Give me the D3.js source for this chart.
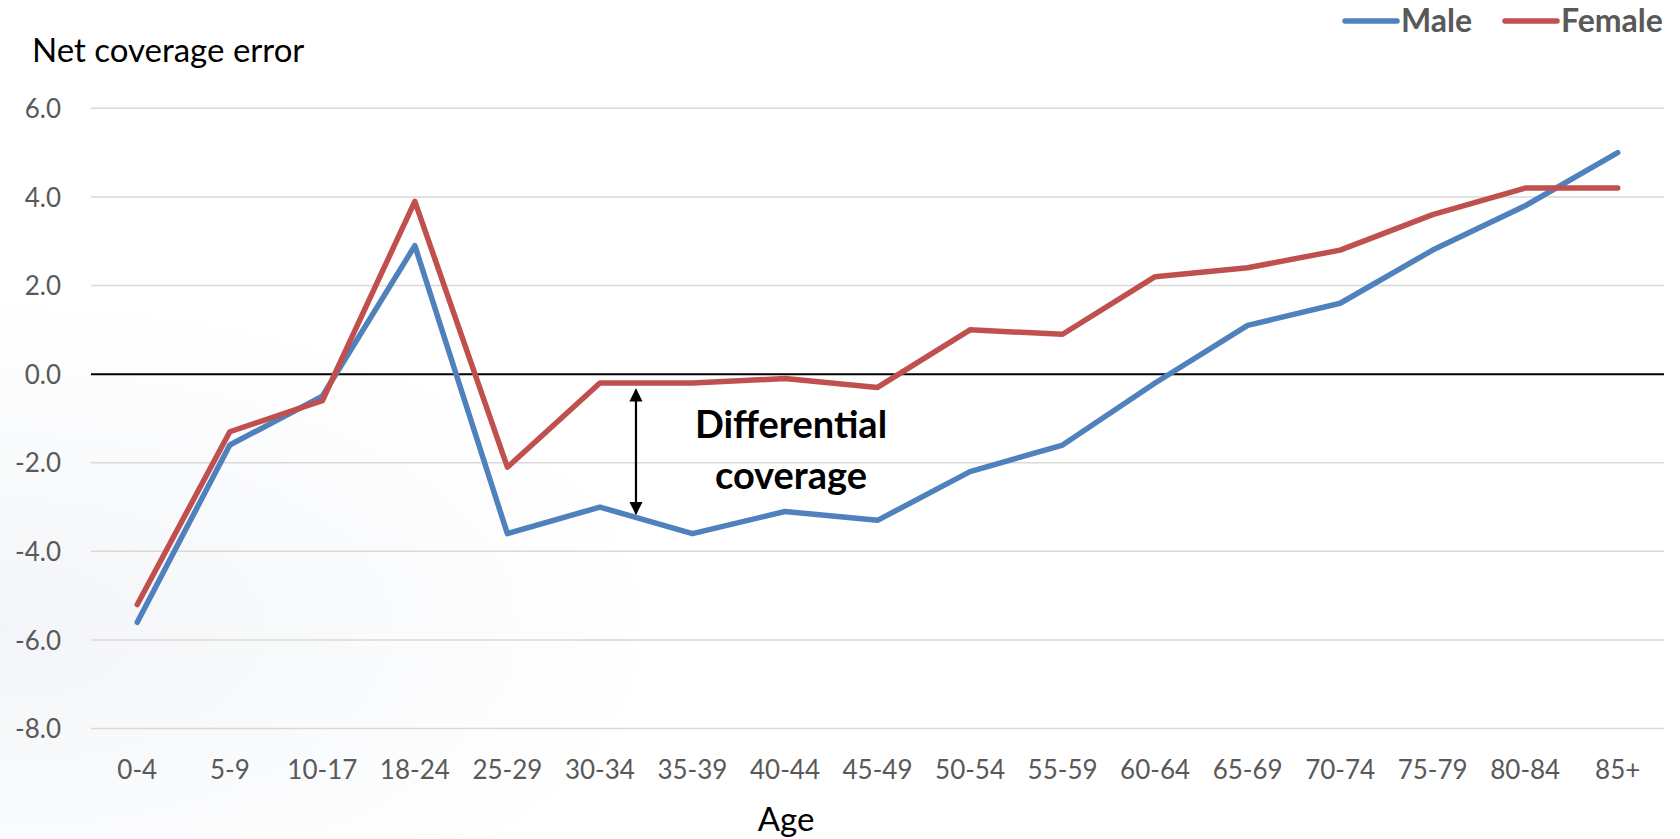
<!DOCTYPE html>
<html>
<head>
<meta charset="utf-8">
<script src="https://cdn.jsdelivr.net/npm/d3@7"></script>
<style>
html,body{margin:0;padding:0;background:#fff;}
svg{display:block;}
</style>
</head>
<body>
<svg id="chart" width="1680" height="839"></svg>
<script>
const categories = ["0-4","5-9","10-17","18-24","25-29","30-34","35-39","40-44","45-49","50-54","55-59","60-64","65-69","70-74","75-79","80-84","85+"];
const maleValues = [-5.6,-1.6,-0.5,2.9,-3.6,-3.0,-3.6,-3.1,-3.3,-2.2,-1.6,-0.2,1.1,1.6,2.8,3.8,5.0];
const femaleValues = [-5.2,-1.3,-0.6,3.9,-2.1,-0.2,-0.2,-0.1,-0.3,1.0,0.9,2.2,2.4,2.8,3.6,4.2,4.2];
const yTicks = [6,4,2,0,-2,-4,-6,-8];
const seriesNames = ["Male","Female"];
const seriesColors = ["#4F81BD","#C0504D"];

(function(){
const W = 1680, H = 839;
const mLeft = 91, mRight = 1664, mTop = 108.3, mBottom = 728.6;
const font = "Lato, 'Open Sans', sans-serif";

const svg = d3.select("#chart");

// faint slide background
const defs = svg.append("defs");
const rg = defs.append("radialGradient").attr("id","bg").attr("cx","0").attr("cy","0.75").attr("r","0.4");
rg.append("stop").attr("offset","0").attr("stop-color","#f3f5f8");
rg.append("stop").attr("offset","1").attr("stop-color","#ffffff");
svg.append("rect").attr("width",W).attr("height",H).attr("fill","url(#bg)");

const x = d3.scaleBand().domain(categories).range([mLeft, mRight]);
const y = d3.scaleLinear().domain([-8, 6]).range([mBottom, mTop]);

// gridlines
svg.append("g").selectAll("line").data(yTicks.filter(d=>d!==0)).join("line")
  .attr("x1", mLeft).attr("x2", mRight)
  .attr("y1", d=>y(d)).attr("y2", d=>y(d))
  .attr("stroke","#D9D9D9").attr("stroke-width",1.5);

// y axis labels
const yAxis = d3.axisLeft(y).tickValues(yTicks).tickFormat(d=>d.toFixed(1)).tickSize(0).tickPadding(0);
const yg = svg.append("g").attr("transform",`translate(${mLeft-30},0)`).call(yAxis);
yg.select(".domain").remove();
yg.selectAll("text").attr("font-family",font).attr("font-size",26).attr("fill","#595959").attr("dy","0.35em");

// x axis labels
const xAxis = d3.axisBottom(x).tickSize(0).tickPadding(0);
const xg = svg.append("g").attr("transform",`translate(0,${mBottom+41})`).call(xAxis);
xg.select(".domain").remove();
xg.selectAll("text").attr("font-family",font).attr("font-size",26).attr("fill","#595959").attr("dy","0.35em");

// zero line
svg.append("line").attr("x1",mLeft).attr("x2",mRight).attr("y1",y(0)).attr("y2",y(0))
  .attr("stroke","#000").attr("stroke-width",2);

// lines
const line = d3.line().x((d,i)=>x(categories[i]) + x.bandwidth()/2).y(d=>y(d));
[maleValues, femaleValues].forEach((vals,k)=>{
  svg.append("path").datum(vals).attr("d",line)
    .attr("fill","none").attr("stroke",seriesColors[k]).attr("stroke-width",5.5)
    .attr("stroke-linejoin","round").attr("stroke-linecap","round");
});

// titles
svg.append("text").attr("x",32).attr("y",62).text("Net coverage error")
  .attr("font-family",font).attr("font-size",33).attr("fill","#000");
svg.append("text").attr("x",786).attr("y",831).attr("text-anchor","middle").text("Age")
  .attr("font-family",font).attr("font-size",33).attr("fill","#000");

// legend
const legendX = [1345,1505];
seriesNames.forEach((name,k)=>{
  const lx = legendX[k];
  svg.append("line").attr("x1",lx).attr("x2",lx+52).attr("y1",21).attr("y2",21)
    .attr("stroke",seriesColors[k]).attr("stroke-width",5.5).attr("stroke-linecap","round");
  svg.append("text").attr("x",lx+56).attr("y",32).text(name)
    .attr("font-family",font).attr("font-size",32).attr("font-weight","bold").attr("fill","#595959");
});

// annotation arrow
defs.append("marker").attr("id","ah").attr("viewBox","0 0 10 10").attr("refX",9).attr("refY",5)
  .attr("markerWidth",6).attr("markerHeight",6).attr("orient","auto-start-reverse")
  .append("path").attr("d","M0,0 L10,5 L0,10 z").attr("fill","#000");
const ax = x("30-34") + x.bandwidth()*0.76 + 12;
svg.append("line").attr("x1",ax).attr("x2",ax).attr("y1",y(-0.35)).attr("y2",y(-3.15))
  .attr("stroke","#000").attr("stroke-width",2.2)
  .attr("marker-start","url(#ah)").attr("marker-end","url(#ah)");

const tx = 791;
svg.append("text").attr("x",tx).attr("y",438).attr("text-anchor","middle").text("Differential")
  .attr("font-family",font).attr("font-size",38).attr("font-weight","bold").attr("fill","#000");
svg.append("text").attr("x",tx).attr("y",489).attr("text-anchor","middle").text("coverage")
  .attr("font-family",font).attr("font-size",38).attr("font-weight","bold").attr("fill","#000");
})();
</script>
</body>
</html>
